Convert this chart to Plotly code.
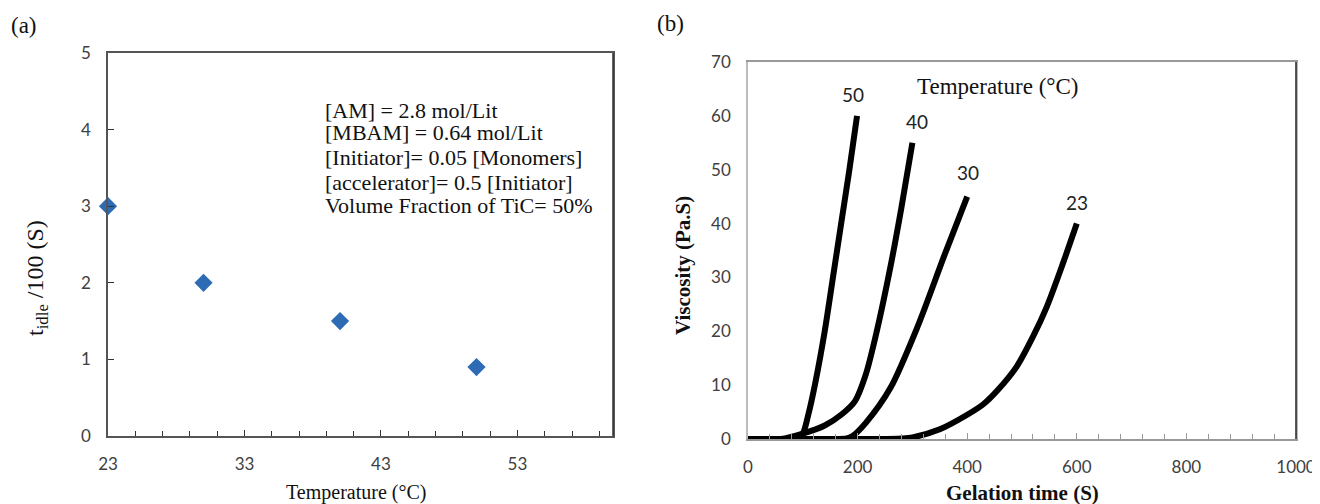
import plotly.graph_objects as go

# ---------- Panel (a) data ----------
temp_a = [23, 30, 40, 50]
t_idle = [3.0, 2.0, 1.5, 0.9]

# ---------- Panel (b) data ----------
time_50 = [0, 60, 90, 100, 110, 122, 140, 155, 170, 185, 199]
visc_50 = [0, 0, 0.2, 1, 4.5, 10, 20, 30, 40, 50, 60]

time_40 = [0, 60, 100, 140, 170, 195, 215, 235, 260, 280, 300]
visc_40 = [0, 0, 1, 2.5, 4.5, 7, 12, 20, 32, 43, 55]

time_30 = [0, 150, 180, 190, 215, 260, 310, 358, 400]
visc_30 = [0, 0, 0.1, 0.5, 3, 9.5, 21, 34, 45]

time_23 = [0, 240, 280, 300, 350, 400, 430, 455, 490, 520, 545, 575, 600]
visc_23 = [0, 0, 0.1, 0.3, 1.8, 4.5, 6.5, 9, 13.4, 19, 24.5, 32.7, 40]

curve_labels = ["50", "40", "30", "23"]
label_x = [192, 308, 401, 600]
label_y = [64, 59, 49.4, 44]

info_lines = ["[AM] = 2.8 mol/Lit", "[MBAM] = 0.64 mol/Lit", "[Initiator]= 0.05 [Monomers]",
              "[accelerator]= 0.5 [Initiator]", "Volume Fraction of TiC= 50%"]

# page body has an 8px margin; figure sized to reach the window's right/bottom edges
OFF = 8
W, H = 1320 - OFF, 504 - OFF
def px(x):
    return (x - OFF) / W
def py(y):
    return 1 - (y - OFF) / H

serif = "Liberation Serif, Times New Roman, serif"
sans = "Lato, Carlito, Calibri, sans-serif"
tickc = "#404040"

fig = go.Figure()

fig.add_trace(go.Scatter(
    x=temp_a, y=t_idle, mode="markers", xaxis="x", yaxis="y",
    marker=dict(symbol="diamond", size=14, color="#2E6BB5"),
    showlegend=False, cliponaxis=False))

for tx, vy in [(time_50, visc_50), (time_40, visc_40), (time_30, visc_30), (time_23, visc_23)]:
    fig.add_trace(go.Scatter(
        x=tx, y=vy, mode="lines", xaxis="x2", yaxis="y2",
        line=dict(color="black", width=6, shape="spline", smoothing=0.8),
        showlegend=False, cliponaxis=False))

for t, lx, ly in zip(curve_labels, label_x, label_y):
    fig.add_annotation(x=lx, y=ly, xref="x2", yref="y2", text=t, showarrow=False,
                       xanchor="center", yanchor="middle",
                       font=dict(family=sans, size=19, color="#222222"))

fig.add_annotation(x=456, y=65.5, xref="x2", yref="y2", text="Temperature (°C)",
                   xanchor="center", yanchor="middle",
                   showarrow=False, font=dict(family=serif, size=23, color="#111111"))

# Panel (a) text block
line_y = [110, 133, 157, 182, 205]
for t, ly in zip(info_lines, line_y):
    fig.add_annotation(x=px(323), y=py(ly), xref="paper", yref="paper",
                       xanchor="left", yanchor="middle", align="left", showarrow=False,
                       text=t, font=dict(family=serif, size=22, color="#111111"))

def paper_text(x, y, text, size, angle=0, bold=False, xanchor="center"):
    fig.add_annotation(x=px(x), y=py(y), xref="paper", yref="paper", textangle=angle,
                       xanchor=xanchor, yanchor="middle", showarrow=False,
                       text=f"<b>{text}</b>" if bold else text,
                       font=dict(family=serif, size=size, color="#111111"))

# panel labels
paper_text(9, 25, "(a)", 23, xanchor="left")
paper_text(655, 23, "(b)", 23, xanchor="left")

# axis titles
paper_text(37, 278, "t<sub>idle</sub> /100 (S)", 24, angle=-90)
paper_text(356, 492, "Temperature (°C)", 20)
paper_text(683, 266, "Viscosity (Pa.S)", 21, angle=-90, bold=True)
paper_text(1022, 493, "Gelation time (S)", 21, bold=True)

# right borders (darker)
fig.add_shape(type="line", xref="paper", yref="paper", x0=px(613), x1=px(613), y0=py(436), y1=py(53),
              line=dict(color="#333333", width=1.5))
fig.add_shape(type="line", xref="paper", yref="paper", x0=px(1296), x1=px(1296), y0=py(439), y1=py(62),
              line=dict(color="#222222", width=1.5))

fig.update_layout(
    width=W, height=H,
    margin=dict(l=0, r=0, t=0, b=0),
    paper_bgcolor="white", plot_bgcolor="white",
    xaxis=dict(domain=[px(108), px(613)], range=[23, 60], tick0=23, dtick=10,
               ticks="inside", ticklen=6, tickcolor="#333333", automargin=False,
               minor=dict(tick0=23, dtick=2, ticks="inside", ticklen=5, tickcolor="#333333"),
               showline=True, linecolor="#555555", linewidth=1.5, mirror=True,
               showgrid=False, zeroline=False, anchor="y",
               tickfont=dict(family=sans, size=17, color=tickc), ticklabelstandoff=12),
    yaxis=dict(domain=[py(436), py(53)], range=[0, 5], dtick=1,
               ticks="inside", ticklen=6, tickcolor="#333333", automargin=False,
               showline=True, linecolor="#555555", linewidth=1.5, mirror=True,
               showgrid=False, zeroline=False, anchor="x",
               tickfont=dict(family=sans, size=17, color=tickc), ticklabelstandoff=12),
    xaxis2=dict(domain=[px(748), px(1296)], range=[0, 1000], dtick=200,
                ticks="inside", ticklen=6, tickcolor="#999999", automargin=False,
                minor=dict(dtick=40, ticks="inside", ticklen=5, tickcolor="#999999"),
                showline=True, linecolor="#999999", linewidth=1.5, mirror=True,
                showgrid=False, zeroline=False, anchor="y2", ticklabeloverflow="allow",
                tickfont=dict(family=sans, size=17, color=tickc), ticklabelstandoff=12),
    yaxis2=dict(domain=[py(439), py(62)], range=[0, 70], dtick=10, ticks="",
                showline=True, linecolor="#bbbbbb", linewidth=1.5, mirror=True,
                showgrid=False, zeroline=False, anchor="x2", automargin=False,
                tickfont=dict(family=sans, size=17, color=tickc), ticklabelstandoff=12),
)

fig.write_html("out.html")
